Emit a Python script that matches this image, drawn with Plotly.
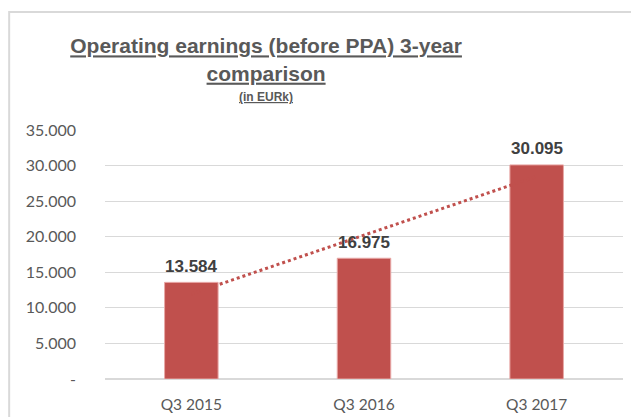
import numpy as np
import plotly.graph_objects as go

# chart values
categories = ["Q3 2015", "Q3 2016", "Q3 2017"]
earnings = [13584, 16975, 30095]
tick_values = [0, 5000, 10000, 15000, 20000, 25000, 30000, 35000]
tick_labels = ["-", "5.000", "10.000", "15.000", "20.000", "25.000", "30.000", "35.000"]

BAR_RED = "#C0504D"
GREY = "#595959"

# the page body keeps its default 8px margin, so the figure is 8px smaller
FIG_W, FIG_H = 631, 409

# linear trendline fitted on category index, like Excel does
idx = np.arange(1, len(earnings) + 1)
slope, intercept = np.polyfit(idx, earnings, 1)
trend = slope * idx + intercept

fig = go.Figure()

# trendline first so the bars are drawn over it
fig.add_trace(
    go.Scatter(
        x=categories,
        y=trend,
        mode="lines",
        line=dict(color=BAR_RED, width=3, dash="dot"),
        showlegend=False,
        hoverinfo="skip",
    )
)

fig.add_trace(
    go.Bar(
        x=categories,
        y=earnings,
        width=0.31,
        marker=dict(color=BAR_RED, line=dict(color="#E8A9A7", width=1)),
        showlegend=False,
    )
)

# value labels above the bars
for cat, val in zip(categories, earnings):
    fig.add_annotation(
        x=cat,
        y=val,
        text=f"{val:,}".replace(",", "."),
        showarrow=False,
        yanchor="middle",
        yshift=16,
        font=dict(family="Liberation Sans, Arial", size=17, color="#404040", weight="bold"),
    )

fig.update_layout(
    width=FIG_W,
    height=FIG_H,
    paper_bgcolor="white",
    plot_bgcolor="white",
    margin=dict(l=97, r=16, t=122, b=38),
    title=dict(
        text="Operating earnings (before PPA) 3-year<br>comparison",
        x=0.409,
        xref="container",
        xanchor="center",
        y=0.889,
        yanchor="top",
        font=dict(family="Liberation Sans, Arial", size=21, color=GREY,
                  weight="bold", lineposition="under"),
    ),
    xaxis=dict(
        showgrid=False,
        showline=False,
        automargin=False,
        ticks="outside",
        ticklen=11,
        tickcolor="rgba(0,0,0,0)",
        tickfont=dict(family="Lato, Open Sans", size=15.5, color=GREY),
    ),
    yaxis=dict(
        range=[0, 35000],
        tickmode="array",
        tickvals=tick_values,
        ticktext=tick_labels,
        automargin=False,
        showgrid=True,
        gridcolor="#D9D9D9",
        gridwidth=1,
        zeroline=True,
        zerolinecolor="#D9D9D9",
        ticklabelstandoff=28,
        tickfont=dict(family="Lato, Open Sans", size=16, color=GREY),
    ),
    font=dict(family="Liberation Sans, Arial", color=GREY),
)

fig.add_annotation(
    text="(in EURk)",
    xref="paper",
    yref="paper",
    x=(258 - 97) / 518,
    xanchor="center",
    y=1.0,
    yanchor="middle",
    yshift=33,
    showarrow=False,
    font=dict(family="Liberation Sans, Arial", size=12, color=GREY,
              weight="bold", lineposition="under"),
)

# light frame around the chart area, as in the original
fig.add_shape(
    type="rect",
    xref="paper",
    yref="paper",
    x0=-0.185,
    x1=1.2,
    y0=-0.5,
    y1=1.474,
    line=dict(color="#D9D9D9", width=2),
    fillcolor="rgba(0,0,0,0)",
    layer="below",
)

fig.write_html("out.html")
